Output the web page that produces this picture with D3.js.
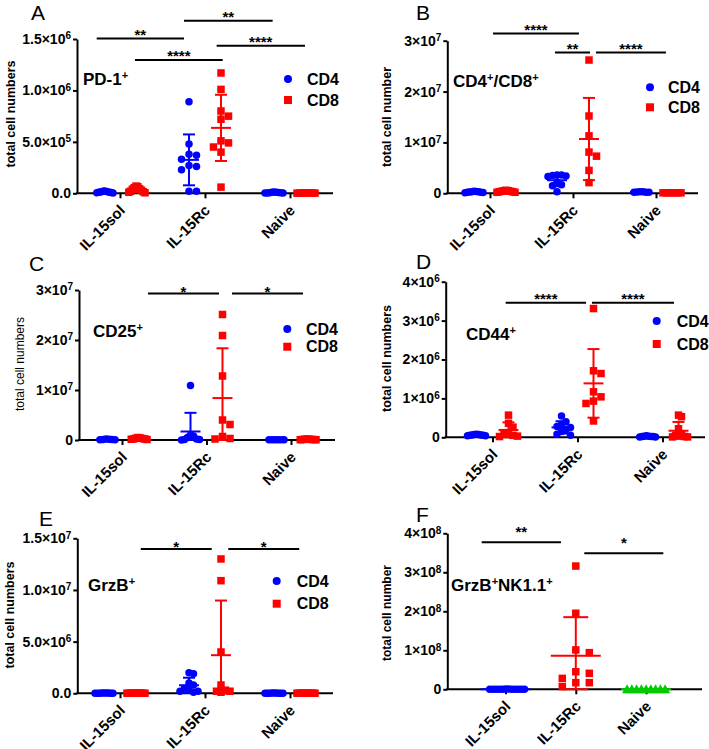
<!DOCTYPE html>
<html><head><meta charset="utf-8">
<script src="https://cdn.jsdelivr.net/npm/d3@7"></script>
<style>body{margin:0;background:#fff}</style>
</head><body>
<svg id="c" width="709" height="749"></svg>
<script>
// ---------------- DATA ----------------
const categories = ["IL-15sol", "IL-15Rc", "Naive"];
const seriesNames = ["CD4", "CD8"];

// Panel A: PD-1+
const pd1CD4 = [
  [22000, 20000, 18000, 15000, 12000, 10000, 10000, 8000, 6000, 4000],
  [890000, 480000, 380000, 370000, 330000, 270000, 260000, 230000, 20000, 20000],
  [12000, 10000, 10000, 8000, 6000, 5000, 4000, 3000, 2000]
];
const pd1CD8 = [
  [70000, 65000, 55000, 45000, 40000, 30000, 20000, 15000, 10000, 5000],
  [1170000, 1010000, 800000, 750000, 720000, 510000, 490000, 450000, 400000, 60000],
  [5000, 4000, 4000, 3000, 3000, 2000, 2000, 2000, 1000]
];
const pd1Ticks = [0, 5e5, 1e6, 1.5e6];
const pd1TickText = ["0.0", "5.0×10", "1.0×10", "1.5×10"];
const pd1TickExp = ["", "5", "6", "6"];
const pd1Sig = [[-0.274, 0.753, 1.506e6, "**"], [0.753, 1.796, 1.677e6, "**"], [0.176, 1.208, 1.295e6, "****"], [1.137, 2.176, 1.434e6, "****"]];

// Panel B: CD4+/CD8+
const totCD4 = [
  [400000, 350000, 300000, 300000, 250000, 200000, 200000, 150000, 100000],
  [3.6e6, 3.6e6, 3.5e6, 3.4e6, 3.3e6, 2.2e6, 1.7e6, 1.5e6, 0.3e6],
  [300000, 300000, 250000, 200000, 200000, 200000]
];
const totCD8 = [
  [600000, 500000, 500000, 400000, 400000, 300000, 300000, 200000, 200000],
  [2.62e7, 1.52e7, 1.13e7, 0.81e7, 0.73e7, 0.45e7, 0.21e7],
  [100000, 100000, 100000, 100000, 100000, 100000, 100000]
];
const totTicks = [0, 1e7, 2e7, 3e7];
const totTickText = ["0", "1×10", "2×10", "3×10"];
const totTickExp = ["", "7", "7", "7"];
const totSig = [[0.036, 1.072, 3.143e7, "****"], [0.783, 1.205, 2.77e7, "**"], [1.277, 2.12, 2.77e7, "****"]];

// Panel C: CD25+
const cd25CD4 = [
  [200000, 150000, 100000, 100000, 50000, 50000],
  [1.09e7, 1.0e6, 8e5, 5e5, 2e5, 1e5, 1e5, 0],
  [60000, 50000, 50000, 40000, 40000, 30000]
];
const cd25CD8 = [
  [500000, 400000, 350000, 300000, 200000, 200000, 150000, 100000],
  [2.51e7, 2.09e7, 1.28e7, 4.0e6, 3.1e6, 7e5, 3e5, 2e5],
  [200000, 150000, 150000, 100000, 100000, 100000, 50000, 50000]
];
const cd25Ticks = [0, 1e7, 2e7, 3e7];
const cd25TickText = ["0", "1×10", "2×10", "3×10"];
const cd25TickExp = ["", "7", "7", "7"];
const cd25Sig = [[0.308, 1.148, 2.93e7, "*"], [1.302, 2.142, 2.93e7, "*"]];

// Panel D: CD44+
const cd44CD4 = [
  [80000, 70000, 70000, 60000, 60000, 50000, 50000, 40000, 40000],
  [550000, 400000, 330000, 280000, 250000, 200000, 150000, 80000, 50000],
  [40000, 30000, 30000, 20000, 20000, 20000, 10000, 10000]
];
const cd44CD8 = [
  [570000, 360000, 260000, 120000, 100000, 50000, 30000, 20000],
  [3.31e6, 1.71e6, 1.64e6, 1.17e6, 1.04e6, 0.93e6, 0.87e6, 0.42e6],
  [570000, 530000, 220000, 80000, 50000, 30000, 20000, 10000, 10000]
];
const cd44Ticks = [0, 1e6, 2e6, 3e6, 4e6];
const cd44TickText = ["0", "1×10", "2×10", "3×10", "4×10"];
const cd44TickExp = ["", "6", "6", "6", "6"];
const cd44Sig = [[0.155, 1.10, 3.46e6, "****"], [1.17, 2.135, 3.46e6, "****"]];

// Panel E: GrzB+
const grzCD4 = [
  [30000, 20000, 20000, 20000, 10000, 10000, 10000, 10000, 10000],
  [2.0e6, 1.9e6, 1.0e6, 8e5, 5e5, 3e5, 2e5, 2e5, 1e5],
  [20000, 20000, 20000, 10000, 10000, 10000, 10000, 10000, 10000]
];
const grzCD8 = [
  [30000, 30000, 20000, 20000, 20000, 10000, 10000, 10000, 10000],
  [1.30e7, 1.09e7, 4.0e6, 8e5, 3e5, 2e5, 2e5, 1e5],
  [20000, 20000, 20000, 10000, 10000, 10000, 10000, 10000, 10000]
];
const grzTicks = [0, 5e6, 1e7, 1.5e7];
const grzTickText = ["0.0", "5.0×10", "1.0×10", "1.5×10"];
const grzTickExp = ["", "6", "7", "7"];
const grzSig = [[0.244, 1.079, 1.397e7, "*"], [1.274, 2.109, 1.397e7, "*"]];

// Panel F: GrzB+NK1.1+ (one group per category)
const nkValues = [
  [5e5, 5e5, 4e5, 4e5, 3e5, 3e5, 3e5, 2e5, 2e5, 2e5, 1e5, 1e5],
  [3.16e8, 1.95e8, 1.01e8, 0.94e8, 0.45e8, 0.41e8, 0.28e8, 0.17e8, 0.17e8, 0.07e8],
  [3e5, 3e5, 2e5, 2e5, 2e5, 2e5, 1e5, 1e5, 1e5]
];
const nkTicks = [0, 1e8, 2e8, 3e8, 4e8];
const nkTickText = ["0", "1×10", "2×10", "3×10", "4×10"];
const nkTickExp = ["", "8", "8", "8", "8"];
const nkSig = [[-0.339, 0.789, 3.77e8, "**"], [1.121, 2.245, 3.49e8, "*"]];

// ---------------- STYLE ----------------
const FONT = "Arial, 'Liberation Sans', sans-serif";
const BLUE = "#0000ff", RED = "#ff0000", GREEN = "#00cc00";
const svg = d3.select("#c");
svg.append("rect").attr("width", 709).attr("height", 749).attr("fill", "#fff");

function swarm(ys, step, coll, maxHalf) {
  const placed = [], offs = [];
  ys.forEach((py, i) => {
    for (let k = 0; k < 400; k++) {
      const m = k === 0 ? 0 : (k % 2 ? (k + 1) / 2 : -k / 2);
      const ox = m * step;
      if (!placed.some(p => Math.abs(p.ox - ox) < coll - 0.01 && Math.abs(p.py - py) < coll - 0.01)) {
        placed.push({ ox, py }); offs[i] = ox; break;
      }
    }
  });
  const mx = d3.max(offs, o => Math.abs(o));
  return mx > maxHalf ? offs.map(o => o * maxHalf / mx) : offs;
}

function marker(g, shape, cx, cy, color, sz) {
  if (shape === "circle") g.append("circle").attr("cx", cx).attr("cy", cy).attr("r", sz / 2).attr("fill", color);
  else if (shape === "square") g.append("rect").attr("x", cx - sz / 2).attr("y", cy - sz / 2).attr("width", sz).attr("height", sz).attr("fill", color);
  else g.append("path").attr("d", d3.symbol(d3.symbolTriangle, sz * sz * 0.8)()).attr("transform", `translate(${cx},${cy + 1})`).attr("fill", color);
}

function drawPanel(p) {
  const g = svg.append("g");
  const x = d3.scaleLinear().domain([0, 1]).range([p.cat0, p.cat0 + p.catStep]);
  const y = d3.scaleLinear().domain([0, p.ticks[p.ticks.length - 1]]).range([p.y0, p.yTop]);

  // y axis
  const ya = g.append("g").attr("transform", `translate(${p.ax0},0)`)
    .call(d3.axisLeft(y).tickValues(p.ticks).tickSize(4).tickSizeOuter(0).tickPadding(2)
      .tickFormat((d, i) => p.tickText[i]));
  ya.select(".domain").attr("stroke-width", 2);
  ya.selectAll(".tick line").attr("stroke-width", 2);
  ya.selectAll(".tick text").attr("font-family", FONT).attr("font-weight", "bold").attr("font-size", 14)
    .attr("fill", "#000")
    .each(function (d, i) {
      if (p.tickExp[i]) d3.select(this).append("tspan").attr("dy", "-0.45em").attr("font-size", 10).text(p.tickExp[i]);
    });

  // x axis: ticks from the axis generator, labels rotated -45°
  const xa = g.append("g").attr("transform", `translate(0,${p.y0})`)
    .call(d3.axisBottom(x).tickValues([0, 1, 2]).tickSize(5).tickFormat(() => ""));
  xa.select(".domain").remove();
  xa.selectAll(".tick line").attr("stroke-width", 2);
  [0, 1, 2].forEach(i => {
    g.append("text").attr("transform", `translate(${x(i) + 6},${p.y0 + 18}) rotate(-45)`)
      .attr("text-anchor", "end").attr("font-family", FONT).attr("font-weight", "bold").attr("font-size", 15)
      .text(categories[i]);
  });
  g.append("line").attr("x1", p.ax0 - 1).attr("x2", p.ax1).attr("y1", p.y0).attr("y2", p.y0)
    .attr("stroke", "#000").attr("stroke-width", 2);

  // points + error bars (mean ± SD)
  p.groups.forEach(gr => {
    const cx = x(gr.cat) + gr.off;
    const ys = gr.values.map(v => y(v));
    const offs = swarm(ys, p.step, 7, p.maxHalf);
    ys.forEach((py, i) => marker(g, gr.shape, cx + offs[i], py, gr.color, 7.5));
    const m = d3.mean(gr.values), sd = gr.values.length > 1 ? d3.deviation(gr.values) : 0;
    const yHi = y(m + sd), yLo = y(Math.max(0, m - sd)), yM = y(m);
    const eb = g.append("g").attr("stroke", gr.color).attr("stroke-width", 2);
    eb.append("line").attr("x1", cx).attr("x2", cx).attr("y1", yHi).attr("y2", yLo);
    eb.append("line").attr("x1", cx - p.meanHalf).attr("x2", cx + p.meanHalf).attr("y1", yM).attr("y2", yM);
    [yHi, yLo].forEach(yy => eb.append("line").attr("x1", cx - p.capHalf).attr("x2", cx + p.capHalf).attr("y1", yy).attr("y2", yy));
  });

  // significance bars
  p.sig.forEach(s => {
    const yy = y(s[2]);
    g.append("line").attr("x1", x(s[0])).attr("x2", x(s[1])).attr("y1", yy).attr("y2", yy)
      .attr("stroke", "#000").attr("stroke-width", 2);
    g.append("text").attr("x", (x(s[0]) + x(s[1])) / 2).attr("y", yy - p.sigDy + 8.7)
      .attr("text-anchor", "middle").attr("font-family", FONT).attr("font-weight", "bold").attr("font-size", 15)
      .text(s[3]);
  });

  // y title
  g.append("text").attr("transform", `translate(${p.yt[0]},${p.yt[1]}) rotate(-90)`).attr("dy", "0.35em")
    .attr("text-anchor", "middle").attr("font-family", FONT).attr("font-weight", p.ytBold ? "bold" : "normal")
    .attr("font-size", p.ytSize).text(p.ytText);

  // panel letter
  g.append("text").attr("x", p.letter[0]).attr("y", p.letter[1]).attr("font-family", "'Liberation Sans', Arial, sans-serif")
    .attr("font-size", 21).text(p.letter[2]);

  // label with superscripts
  const lab = g.append("text").attr("x", p.label[0]).attr("y", p.label[1]).attr("font-family", FONT)
    .attr("font-weight", "bold").attr("font-size", 17);
  p.labelParts.forEach(part => {
    if (part[1]) lab.append("tspan").attr("font-size", 11).attr("baseline-shift", "6").text(part[0]);
    else lab.append("tspan").text(part[0]);
  });

  // legend
  if (p.legend) {
    const L = p.legend;
    [0, 1].forEach(i => {
      marker(g, i === 0 ? "circle" : "square", L.x, L.y[i], i === 0 ? BLUE : RED, 8);
      g.append("text").attr("x", L.tx).attr("y", L.y[i] + 5.7).attr("font-family", FONT)
        .attr("font-weight", "bold").attr("font-size", 16).text(seriesNames[i]);
    });
  }
}

function twoSeries(cd4, cd8) {
  const out = [];
  [0, 1, 2].forEach(c => {
    out.push({ cat: c, off: -16, shape: "circle", color: BLUE, values: cd4[c] });
    out.push({ cat: c, off: 16, shape: "square", color: RED, values: cd8[c] });
  });
  return out;
}

const common = { step: 7.5, maxHalf: 9, meanHalf: 10, capHalf: 6 };

drawPanel(Object.assign({}, common, {
  ax0: 77, ax1: 333, y0: 193.3, yTop: 39, cat0: 120, catStep: 85,
  ticks: pd1Ticks, tickText: pd1TickText, tickExp: pd1TickExp, sig: pd1Sig, sigDy: 7.5,
  groups: twoSeries(pd1CD4, pd1CD8),
  yt: [11, 114], ytBold: true, ytSize: 12.5, ytText: "total cell numbers",
  letter: [31, 19.5, "A"], label: [83, 85], labelParts: [["PD-1", false], ["+", true]],
  legend: { x: 288, y: [79, 100], tx: 307 }
}));

drawPanel(Object.assign({}, common, {
  ax0: 447.3, ax1: 698, y0: 193.3, yTop: 40.7, cat0: 490, catStep: 83,
  ticks: totTicks, tickText: totTickText, tickExp: totTickExp, sig: totSig, sigDy: 7,
  groups: twoSeries(totCD4, totCD8),
  yt: [387, 117], ytBold: true, ytSize: 12.5, ytText: "total cell number",
  letter: [416, 19.5, "B"], label: [453, 87.3], labelParts: [["CD4", false], ["+", true], ["/CD8", false], ["+", true]],
  legend: { x: 650, y: [87.3, 107.3], tx: 668 }
}));

drawPanel(Object.assign({}, common, {
  ax0: 79, ax1: 335, y0: 440, yTop: 290, cat0: 122, catStep: 84.5,
  ticks: cd25Ticks, tickText: cd25TickText, tickExp: cd25TickExp, sig: cd25Sig, sigDy: 5,
  groups: twoSeries(cd25CD4, cd25CD8),
  yt: [20, 364], ytBold: false, ytSize: 12, ytText: "total cell numbers",
  letter: [29, 270.5, "C"], label: [93, 337], labelParts: [["CD25", false], ["+", true]],
  legend: { x: 287.3, y: [329, 346.7], tx: 306 }
}));

drawPanel(Object.assign({}, common, {
  ax0: 445.7, ax1: 705, y0: 437.3, yTop: 281.7, cat0: 492.5, catStep: 85,
  ticks: cd44Ticks, tickText: cd44TickText, tickExp: cd44TickExp, sig: cd44Sig, sigDy: 7.3,
  groups: twoSeries(cd44CD4, cd44CD8),
  yt: [387, 358.5], ytBold: true, ytSize: 12.5, ytText: "total cell numbers",
  letter: [416, 269, "D"], label: [466, 340], labelParts: [["CD44", false], ["+", true]],
  legend: { x: 656.7, y: [321, 344], tx: 676.7 }
}));

drawPanel(Object.assign({}, common, {
  ax0: 77.3, ax1: 333, y0: 693.3, yTop: 538.3, cat0: 120, catStep: 85,
  ticks: grzTicks, tickText: grzTickText, tickExp: grzTickExp, sig: grzSig, sigDy: 6,
  groups: twoSeries(grzCD4, grzCD8),
  yt: [10, 615], ytBold: true, ytSize: 12.5, ytText: "total cell numbers",
  letter: [39, 525.5, "E"], label: [88, 590.7], labelParts: [["GrzB", false], ["+", true]],
  legend: { x: 276.7, y: [581, 603.7], tx: 296.7 }
}));

drawPanel({
  step: 13.5, maxHalf: 19, meanHalf: 25, capHalf: 12.5,
  ax0: 447.3, ax1: 702, y0: 689.3, yTop: 533.3, cat0: 505.5, catStep: 70.3,
  ticks: nkTicks, tickText: nkTickText, tickExp: nkTickExp, sig: nkSig, sigDy: 13.5,
  groups: [
    { cat: 0, off: 0, shape: "circle", color: BLUE, values: nkValues[0] },
    { cat: 1, off: 0, shape: "square", color: RED, values: nkValues[1] },
    { cat: 2, off: 0, shape: "triangle", color: GREEN, values: nkValues[2] }
  ],
  yt: [387, 613], ytBold: true, ytSize: 12, ytText: "total cell number",
  letter: [416, 522, "F"], label: [451, 590.7], labelParts: [["GrzB", false], ["+", true], ["NK1.1", false], ["+", true]],
  legend: null
});
</script>
</body></html>
